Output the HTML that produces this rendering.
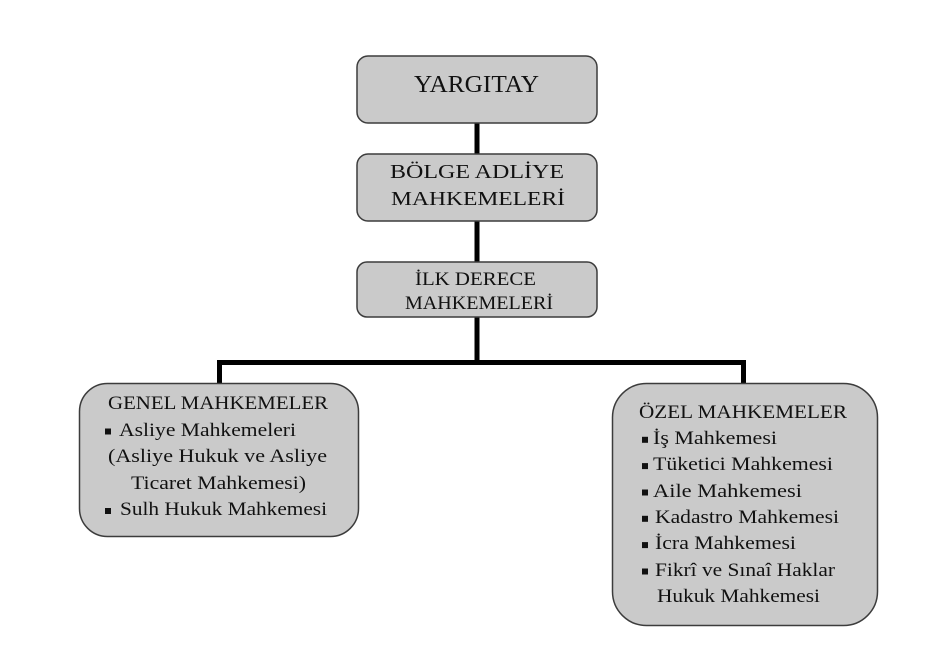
<!DOCTYPE html>
<html>
<head>
<meta charset="utf-8">
<style>
  html, body { margin: 0; padding: 0; background: #ffffff; }
  body { width: 927px; height: 662px; overflow: hidden; position: relative;
         font-family: "Liberation Serif", "Times New Roman", Times, "Noto Serif CJK SC", serif; }
  svg { display: block; position: absolute; left: 0; top: 0; }
  .t { position: absolute; white-space: nowrap; line-height: 1; color: #111111;
       transform-origin: 0 0; font-family: "Liberation Serif", "Times New Roman", Times, "Noto Serif CJK SC", serif; }
</style>
</head>
<body>
<svg width="927" height="662" viewBox="0 0 927 662" xmlns="http://www.w3.org/2000/svg">
  <rect x="0" y="0" width="927" height="662" fill="#ffffff"/>
  <g fill="#000">
    <rect x="474.5" y="122" width="5" height="33"/>
    <rect x="474.5" y="220" width="5" height="43"/>
    <rect x="474.5" y="316" width="5" height="49"/>
    <rect x="217" y="360" width="529" height="5"/>
    <rect x="217" y="360" width="5" height="24"/>
    <rect x="741" y="360" width="5" height="24"/>
  </g>
  <g fill="#cacaca" stroke="#3c3c3c" stroke-width="1.5">
    <rect x="357" y="56" width="240" height="67" rx="11" ry="11"/>
    <rect x="357" y="154" width="240" height="67" rx="11" ry="11"/>
    <rect x="357" y="262" width="240" height="55" rx="10" ry="10"/>
    <rect x="79.5" y="383.5" width="279" height="153" rx="28" ry="28"/>
    <rect x="612.5" y="383.5" width="265" height="242" rx="34" ry="34"/>
  </g>
  <g fill="#111111">
    <rect x="105" y="428.5" width="6" height="6"/>
    <rect x="105" y="508" width="6" height="6"/>
    <rect x="642" y="436.8" width="6" height="6"/>
    <rect x="642" y="463.1" width="6" height="6"/>
    <rect x="642" y="489.5" width="6" height="6"/>
    <rect x="642" y="515.8" width="6" height="6"/>
    <rect x="642" y="542.1" width="6" height="6"/>
    <rect x="642" y="568.5" width="6" height="6"/>
  </g>
</svg>

<!-- text: top = baseline - 0.8375*size -->
<div class="t" style="left:414px; top:72.9px; font-size:24px;">YARGITAY</div>
<div class="t" style="left:390px; top:162.25px; font-size:20px;">BÖLGE ADLİYE</div>
<div class="t" style="left:391px; top:188.75px; font-size:20px;">MAHKEMELERİ</div>
<div class="t" style="left:415px; top:270.1px; font-size:19px;">İLK DERECE</div>
<div class="t" style="left:405px; top:294.1px; font-size:19px;">MAHKEMELERİ</div>

<div class="t" style="left:108px; top:394.5px; font-size:18.5px;">GENEL MAHKEMELER</div>
<div class="t" style="left:119px; top:421.5px; font-size:18.5px;">Asliye Mahkemeleri</div>
<div class="t" style="left:108px; top:448px; font-size:18.5px;">(Asliye Hukuk ve Asliye</div>
<div class="t" style="left:131px; top:474.5px; font-size:18.5px;">Ticaret Mahkemesi)</div>
<div class="t" style="left:120px; top:501px; font-size:18.5px;">Sulh Hukuk Mahkemesi</div>

<div class="t" style="left:639px; top:403.5px; font-size:18.5px;">ÖZEL MAHKEMELER</div>
<div class="t" style="left:653px; top:429.8px; font-size:18.5px;">İş Mahkemesi</div>
<div class="t" style="left:653px; top:456.1px; font-size:18.5px;">Tüketici Mahkemesi</div>
<div class="t" style="left:653px; top:482.5px; font-size:18.5px;">Aile Mahkemesi</div>
<div class="t" style="left:655px; top:508.8px; font-size:18.5px;">Kadastro Mahkemesi</div>
<div class="t" style="left:655px; top:535.1px; font-size:18.5px;">İcra Mahkemesi</div>
<div class="t" style="left:655px; top:561.5px; font-size:18.5px;">Fikrî ve Sınaî Haklar</div>
<div class="t" style="left:657px; top:587.8px; font-size:18.5px;">Hukuk Mahkemesi</div>

<script>
(function(){
  var widths = [125,174,174,121,148, 220,177,219,175,207, 208,124,180,149,184,141,180,163];
  var els = document.querySelectorAll('.t');
  for (var i = 0; i < els.length && i < widths.length; i++) {
    var w = els[i].getBoundingClientRect().width;
    if (w > 0) els[i].style.transform = 'scaleX(' + (widths[i] / w) + ')';
  }
})();
</script>
</body>
</html>
